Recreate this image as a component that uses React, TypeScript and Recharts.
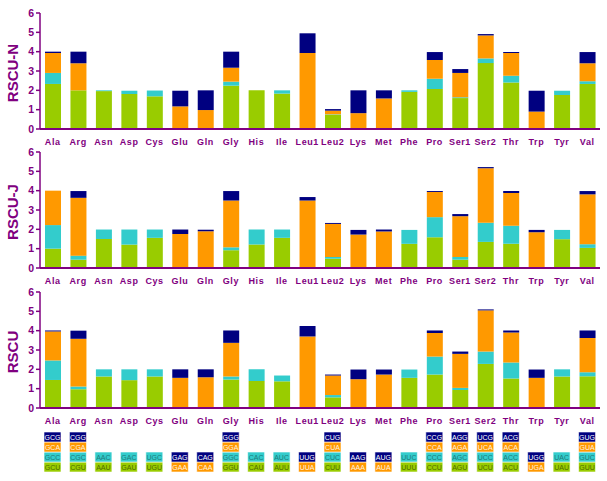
import React from 'react';
import { BarChart, Bar, XAxis, YAxis, LabelList } from 'recharts';

const categories = ['Ala', 'Arg', 'Asn', 'Asp', 'Cys', 'Glu', 'Gln', 'Gly', 'His', 'Ile', 'Leu1', 'Leu2', 'Lys', 'Met', 'Phe', 'Pro', 'Ser1', 'Ser2', 'Thr', 'Trp', 'Tyr', 'Val'];

// RSCU-N panel (codon ending U / C / A / G)
const nU = [2.33, 2.0, 1.96, 1.81, 1.69, 0, 0, 2.24, 2.0, 1.83, 0, 0.74, 0, 0, 1.92, 2.07, 1.6, 3.41, 2.4, 0, 1.76, 2.33];
const nC = [0.57, 0, 0.04, 0.17, 0.3, 0, 0, 0.21, 0, 0.17, 0, 0.02, 0, 0, 0.08, 0.53, 0.04, 0.24, 0.36, 0, 0.22, 0.14];
const nA = [1.03, 1.4, 0, 0, 0, 1.17, 0.98, 0.72, 0, 0, 3.93, 0.19, 0.82, 1.58, 0, 0.97, 1.26, 1.19, 1.17, 0.9, 0, 0.93];
const nG = [0.07, 0.6, 0, 0, 0, 0.81, 1.02, 0.83, 0, 0, 1.02, 0.08, 1.18, 0.42, 0, 0.41, 0.2, 0.07, 0.05, 1.08, 0, 0.58];

// RSCU-J panel
const jU = [1.0, 0.43, 1.5, 1.21, 1.56, 0, 0, 0.92, 1.21, 1.56, 0, 0.48, 0, 0, 1.25, 1.59, 0.43, 1.35, 1.26, 0, 1.49, 1.04];
const jC = [1.22, 0.21, 0.49, 0.78, 0.43, 0, 0, 0.15, 0.78, 0.43, 0, 0.09, 0, 0, 0.72, 1.04, 0.14, 0.99, 0.92, 0, 0.48, 0.19];
const jA = [1.78, 2.99, 0, 0, 0, 1.76, 1.9, 2.42, 0, 0, 3.49, 1.71, 1.73, 1.89, 0, 1.3, 2.11, 2.82, 1.7, 1.85, 0, 2.58];
const jG = [0, 0.35, 0, 0, 0, 0.23, 0.08, 0.49, 0, 0, 0.18, 0.05, 0.24, 0.1, 0, 0.05, 0.11, 0.06, 0.1, 0.12, 0, 0.17];

// RSCU panel
const rU = [1.45, 0.97, 1.63, 1.44, 1.63, 0, 0, 1.47, 1.4, 1.38, 0, 0.55, 0, 0, 1.56, 1.73, 0.93, 2.28, 1.52, 0, 1.63, 1.64];
const rC = [1.01, 0.14, 0.37, 0.56, 0.37, 0, 0, 0.16, 0.6, 0.3, 0, 0.12, 0, 0, 0.43, 0.93, 0.11, 0.64, 0.83, 0, 0.37, 0.21];
const rA = [1.5, 2.47, 0, 0, 0, 1.56, 1.59, 1.74, 0, 0, 3.7, 1.01, 1.49, 1.73, 0, 1.22, 1.76, 2.13, 1.56, 1.56, 0, 1.77];
const rG = [0.05, 0.42, 0, 0, 0, 0.44, 0.41, 0.64, 0, 0, 0.54, 0.05, 0.5, 0.26, 0, 0.13, 0.12, 0.05, 0.1, 0.43, 0, 0.39];

// codon legend
const codonU = ['GCU', 'CGU', 'AAU', 'GAU', 'UGU', '', '', 'GGU', 'CAU', 'AUU', '', 'CUU', '', '', 'UUU', 'CCU', 'AGU', 'UCU', 'ACU', '', 'UAU', 'GUU'];
const codonC = ['GCC', 'CGC', 'AAC', 'GAC', 'UGC', '', '', 'GGC', 'CAC', 'AUC', '', 'CUC', '', '', 'UUC', 'CCC', 'AGC', 'UCC', 'ACC', '', 'UAC', 'GUC'];
const codonA = ['GCA', 'CGA', '', '', '', 'GAA', 'CAA', 'GGA', '', '', 'UUA', 'CUA', 'AAA', 'AUA', '', 'CCA', 'AGA', 'UCA', 'ACA', 'UGA', '', 'GUA'];
const codonG = ['GCG', 'CGG', '', '', '', 'GAG', 'CAG', 'GGG', '', '', 'UUG', 'CUG', 'AAG', 'AUG', '', 'CCG', 'AGG', 'UCG', 'ACG', 'UGG', '', 'GUG'];

const GREEN = '#99cc00';
const CYAN = '#33cccc';
const ORANGE = '#ff9900';
const NAVY = '#000080';
const PURPLE = '#800080';
const FONT = '"Liberation Sans", Arial, sans-serif';

const yTicks = [0, 1, 2, 3, 4, 5, 6];

const makeRows = (u: number[], c: number[], a: number[], g: number[]) =>
  categories.map((name, i) => ({ name, u: u[i], c: c[i], a: a[i], g: g[i] }));

const legendRows = categories.map((name, i) => ({
  name,
  u: codonU[i] ? 1 : 0,
  c: codonC[i] ? 1 : 0,
  a: codonA[i] ? 1 : 0,
  g: codonG[i] ? 1 : 0,
  tu: codonU[i],
  tc: codonC[i],
  ta: codonA[i],
  tg: codonG[i],
}));

const Panel = ({ rows, title, top }: { rows: any[]; title: string; top: number }) => (
  <div style={{ position: 'absolute', left: 0, top }}>
    <BarChart width={607} height={148} data={rows} margin={{ top: 13, right: 7, left: 0, bottom: 0 }} barSize={16}>
      <XAxis
        dataKey="name"
        height={19}
        interval={0}
        tickLine={false}
        axisLine={{ stroke: PURPLE, strokeWidth: 2 }}
        tick={{ fill: PURPLE, fontSize: 9, fontWeight: 'bold', fontFamily: FONT, letterSpacing: 0.6, dy: 2 }}
      />
      <YAxis
        width={40}
        domain={[0, 6]}
        ticks={yTicks}
        tickSize={4}
        axisLine={{ stroke: PURPLE, strokeWidth: 1.5 }}
        tickLine={{ stroke: PURPLE, strokeWidth: 1.5 }}
        tick={{ fill: PURPLE, fontSize: 10.5, fontWeight: 'bold', fontFamily: FONT }}
        label={{
          content: (p: any) => {
            const vb = p.viewBox || { y: 13, height: 116 };
            const cy = vb.y + vb.height / 2 + 2;
            return (
              <text
                x={12}
                y={cy}
                transform={`rotate(-90 12 ${cy})`}
                textAnchor="middle"
                dominantBaseline="central"
                fill={PURPLE}
                fontSize={15}
                fontWeight="bold"
                fontFamily={FONT}
              >
                {title}
              </text>
            );
          },
        }}
      />
      <Bar dataKey="u" stackId="s" fill={GREEN} isAnimationActive={false} />
      <Bar dataKey="c" stackId="s" fill={CYAN} isAnimationActive={false} />
      <Bar dataKey="a" stackId="s" fill={ORANGE} isAnimationActive={false} />
      <Bar dataKey="g" stackId="s" fill={NAVY} isAnimationActive={false} />
    </BarChart>
  </div>
);

const codonLabel = (color: string) => (p: any) => {
  if (!p.value) return null;
  return (
    <text
      x={p.x + p.width / 2}
      y={p.y + p.height / 2}
      textAnchor="middle"
      dominantBaseline="central"
      fill={color}
      fontSize={7}
      fontFamily={FONT}
    >
      {p.value}
    </text>
  );
};

const CodonLegend = () => (
  <div style={{ position: 'absolute', left: 0, top: 420 }}>
    <BarChart width={607} height={52} data={legendRows} margin={{ top: 12, right: 7, left: 40, bottom: 0 }} barSize={17}>
      <XAxis dataKey="name" hide />
      <YAxis domain={[0, 4]} hide />
      <Bar dataKey="u" stackId="l" fill={GREEN} stroke="#ffffff" strokeWidth={0.6} isAnimationActive={false}>
        <LabelList dataKey="tu" content={codonLabel('#4d6b00')} />
      </Bar>
      <Bar dataKey="c" stackId="l" fill={CYAN} stroke="#ffffff" strokeWidth={0.6} isAnimationActive={false}>
        <LabelList dataKey="tc" content={codonLabel('#1f7a7a')} />
      </Bar>
      <Bar dataKey="a" stackId="l" fill={ORANGE} stroke="#ffffff" strokeWidth={0.6} isAnimationActive={false}>
        <LabelList dataKey="ta" content={codonLabel('#fff3e0')} />
      </Bar>
      <Bar dataKey="g" stackId="l" fill={NAVY} stroke="#ffffff" strokeWidth={0.6} isAnimationActive={false}>
        <LabelList dataKey="tg" content={codonLabel('#ffffff')} />
      </Bar>
    </BarChart>
  </div>
);

export default function App() {
  return (
    <div style={{ position: 'absolute', left: 0, top: 0, width: 607, height: 481, background: '#ffffff', overflow: 'hidden' }}>
      <Panel rows={makeRows(nU, nC, nA, nG)} title="RSCU-N" top={0} />
      <Panel rows={makeRows(jU, jC, jA, jG)} title="RSCU-J" top={139} />
      <Panel rows={makeRows(rU, rC, rA, rG)} title="RSCU" top={279} />
      <CodonLegend />
    </div>
  );
}
